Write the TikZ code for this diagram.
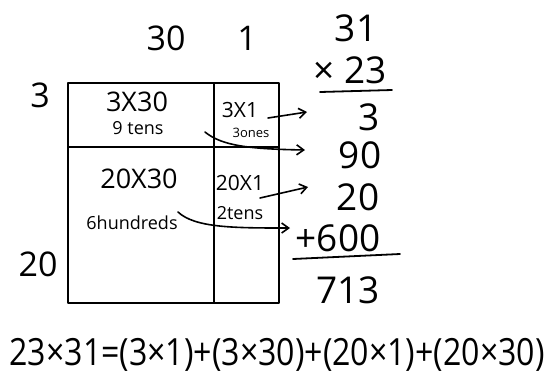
\documentclass[tikz,border=0pt]{standalone}
\usepackage{fontspec}
\usepackage{graphicx}
\setmainfont{Open Sans}
\usetikzlibrary{arrows.meta}
\tikzset{
  hand/.style={line width=1.8pt, black, line cap=round, line join=round},
  big/.style={inner sep=0pt, text=black, font=\fontsize{37}{40}\selectfont},
  mid/.style={inner sep=0pt, text=black, font=\fontsize{34}{36}\selectfont},
  cell/.style={inner sep=0pt, text=black, font=\fontsize{27}{29}\selectfont},
  cellr/.style={inner sep=0pt, text=black, font=\fontsize{21}{23}\selectfont},
  small/.style={inner sep=0pt, text=black, font=\fontsize{18}{20}\selectfont},
  tiny/.style={inner sep=0pt, text=black, font=\fontsize{13}{14}\selectfont},
  arr/.style={hand, line width=1.6pt, -{Straight Barb[length=7pt,width=10pt]}},
}
\begin{document}
\begin{tikzpicture}[x=1pt,y=-1pt]
\useasboundingbox (0,0) rectangle (544,384);
% grid
\coordinate (tl) at (68,83);
\coordinate (br) at (279,303);
\draw[hand] (tl) rectangle (br);
\coordinate (vt) at (214,83);
\coordinate (vb) at (214,303);
\draw[hand] (vt) -- (vb);
\coordinate (hl) at (68,147);
\coordinate (hr) at (279,147);
\draw[hand] (hl) -- (hr);
% headers
\node[mid] (h30) at (166,38) {30};
\node[mid] (h1) at (247,38) {1};
\node[mid] (v3) at (40,95) {3};
\node[mid] (v20) at (38,264) {20};
% cells
\node[cell] (c330) at (137,102) {3X30};
\node[small] (tens9) at (138,128) {9 tens};
\node[cellr] (c31) at (240,110) {3X1};
\node[tiny] (ones3) at (251,133) {3ones};
\node[cell] (c2030) at (139,179) {20X30};
\node[small] (hund6) at (132,223) {6hundreds};
\node[cellr] (c201) at (240,183) {20X1};
\node[small] (tens2) at (240,213) {2tens};
% column multiplication
\node[big] (n31) at (356,28) {31};
\node[big] (n23) at (350,70) {× 23};
\coordinate (l1a) at (320,92);
\coordinate (l1b) at (392,90);
\draw[hand] (l1a) -- (l1b);
\node[big] (r3) at (369,117) {3};
\node[big] (r90) at (360,155) {90};
\node[big] (r20) at (358,197) {20};
\node[big] (r600) at (338,238) {+600};
\coordinate (l2a) at (293,259);
\coordinate (l2b) at (400,254);
\draw[hand] (l2a) -- (l2b);
\node[big] (r713) at (348,290) {713};
% arrows
\coordinate (a1s) at (268,118);
\coordinate (a1e) at (307,112);
\draw[arr] (a1s) -- (a1e);
\coordinate (a2s) at (205,132);
\coordinate (a2e) at (305,150);
\draw[arr] (a2s) .. controls (222,146) and (250,149) .. (a2e);
\coordinate (a3s) at (260,198);
\coordinate (a3e) at (308,187);
\draw[arr] (a3s) -- (a3e);
\coordinate (a4s) at (178,212);
\coordinate (a4e) at (290,228);
\draw[arr] (a4s) .. controls (195,228) and (235,228) .. (a4e);
% equation
\node[inner sep=0pt, text=black, font=\fontsize{30}{32}\selectfont] (eq) at (277,355) {\scalebox{1.07}[1.25]{23×31=(3×1)+(3×30)+(20×1)+(20×30)}};
\end{tikzpicture}
\end{document}
